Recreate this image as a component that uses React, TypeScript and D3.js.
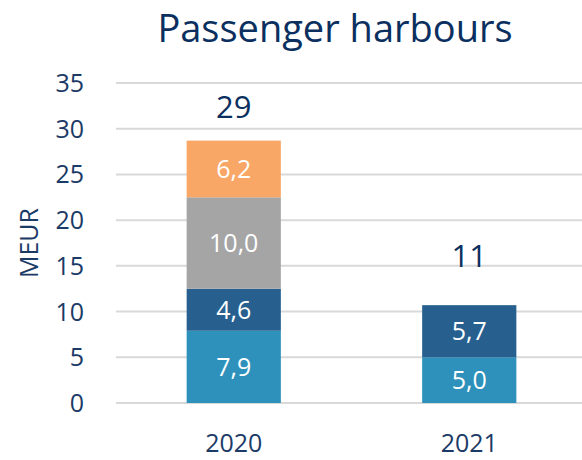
import React from "react";
import * as d3 from "d3";

const categories = ["2020", "2021"];
const seriesNames = ["s1", "s2", "s3", "s4"];
const seriesColors = ["#2E91BB", "#27608F", "#A5A5A5", "#F9A766"];
const values: number[][] = [
  [7.9, 4.6, 10.0, 6.2],
  [5.0, 5.7, 0, 0],
];
const totals = ["29", "11"];
const totalLabelAt = [32.4, 16.1];
const yTicks = [0, 5, 10, 15, 20, 25, 30, 35];

const W = 582, H = 460;
const margin = { left: 116, right: -5, top: 83, bottom: 57 };
const navy = "#1B3A66";
const font = "'Open Sans', 'Noto Sans', sans-serif";
const lw = 400;

export default function App() {
  const x = d3.scaleBand<string>().domain(categories).range([margin.left, W - margin.right]).paddingInner(0.6).paddingOuter(0.3);
  const y = d3.scaleLinear().domain([0, 35]).range([H - margin.bottom, margin.top]);
  const fmt = (v: number) => v.toFixed(1).replace(".", ",");

  return (
    <svg width={W} height={H} style={{ position: "absolute", left: 0, top: 0, background: "#fff" }}>
      <text x={335} y={42} textAnchor="middle" fontFamily={font} fontSize={38} fill="#0B3060">Passenger harbours</text>
      {yTicks.map((t) => (
        <g key={t}>
          <line x1={margin.left} x2={W} y1={y(t)} y2={y(t)} stroke="#D9D9D9" strokeWidth={2} />
          <text x={84} y={y(t)} dy="0.36em" textAnchor="end" fontFamily={font} fontSize={25} fontWeight={lw} fill={navy}>{t}</text>
        </g>
      ))}
      <text transform={`translate(38,${(y(0) + y(35)) / 2}) rotate(-90)`} textAnchor="middle" fontFamily={font} fontSize={25} fontWeight={lw} fill={navy}>MEUR</text>
      {categories.map((c, i) => {
        let acc = 0;
        const bw = x.bandwidth();
        const x0 = x(c)!;
        return (
          <g key={c}>
            {values[i].map((v, j) => {
              if (v <= 0) return null;
              const y0 = acc;
              acc += v;
              const top = y(acc), bot = y(y0);
              return (
                <g key={seriesNames[j]}>
                  <rect x={x0} y={top} width={bw} height={bot - top} fill={seriesColors[j]} />
                  <text x={x0 + bw / 2} y={(top + bot) / 2} dy="0.36em" textAnchor="middle" fontFamily={font} fontSize={25} fontWeight={lw} fill="#fff">{fmt(v)}</text>
                </g>
              );
            })}
            <text x={x0 + bw / 2} y={y(totalLabelAt[i])} dy="0.36em" textAnchor="middle" fontFamily={font} fontSize={31} fontWeight={500} fill="#0B3060">{totals[i]}</text>
            <text x={x0 + bw / 2} y={452} textAnchor="middle" fontFamily={font} fontSize={25} fontWeight={lw} fill={navy}>{c}</text>
          </g>
        );
      })}
    </svg>
  );
}
